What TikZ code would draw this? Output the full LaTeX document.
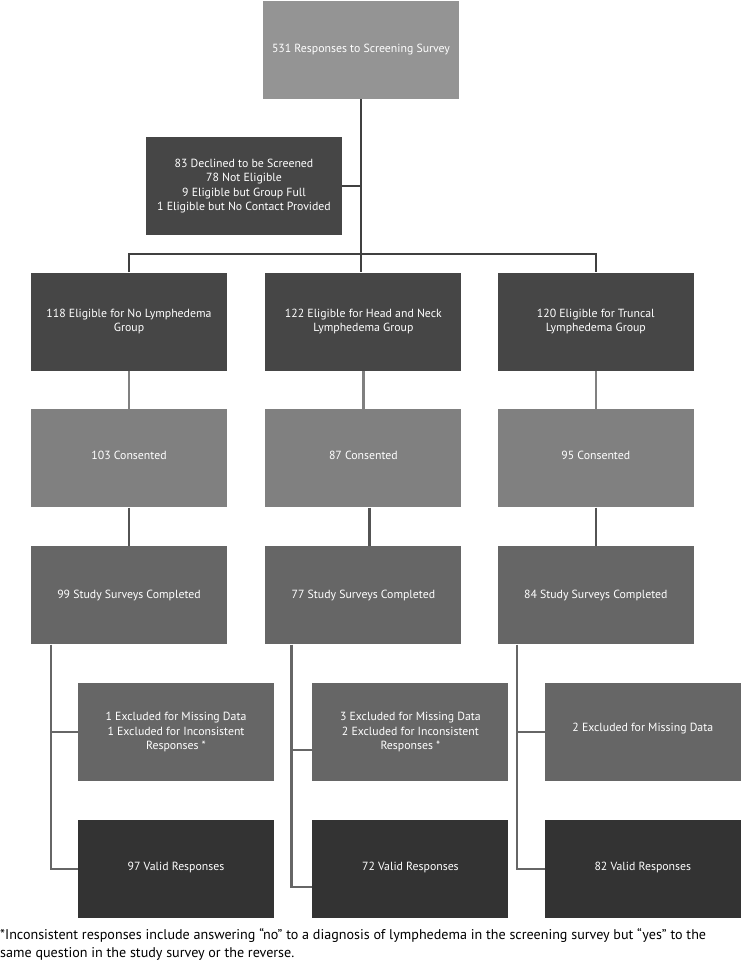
\documentclass[tikz,border=0pt]{standalone}
\usepackage{fontspec}
\setmainfont{PT Sans}
\usepackage{xcolor}
\usepackage{tikz}
\usetikzlibrary{positioning}
\definecolor{topgray}{RGB}{148,148,148}
\definecolor{darkbox}{RGB}{70,70,70}
\definecolor{consgray}{RGB}{128,128,128}
\definecolor{studygray}{RGB}{102,102,102}
\definecolor{validgray}{RGB}{51,51,51}
\definecolor{linedark}{RGB}{64,64,64}

\begin{document}
\begin{tikzpicture}[
            x=1pt, y=-1pt,
            node distance=38.5pt and 38pt,
            box/.style={rectangle, minimum width=196pt, minimum height=98pt, inner sep=0pt, align=center, text=white, font=\fontsize{11.8}{14.5}\selectfont},
            link/.style={line width=2.5pt, draw=linedark}
        ]
            \useasboundingbox (0,0) rectangle (741,961);

            \node[box, fill=topgray] (screen) at (361,50) {531 Responses to Screening Survey};
            \node[box, fill=darkbox] (declined) at (244,186) {83 Declined to be Screened\\78 Not Eligible\\9 Eligible but Group Full\\1 Eligible but No Contact Provided};

            % eligible groups
            \node[box, fill=darkbox] (eligno) at (129,321.5) {118 Eligible for No Lymphedema\\Group};
            \node[box, fill=darkbox, right=38pt of eligno] (elighn) {122 Eligible for Head and Neck\\Lymphedema Group};
            \node[box, fill=darkbox, right=36pt of elighn] (eligtr) {120 Eligible for Truncal\\Lymphedema Group};

            \node[box, fill=consgray, below=of eligno] (consno) {\raisebox{6pt}{103 Consented}};
            \node[box, fill=consgray, below=of elighn] (conshn) {\raisebox{6pt}{87 Consented}};
            \node[box, fill=consgray, below=of eligtr] (constr) {\raisebox{6pt}{95 Consented}};

            \node[box, fill=studygray, below=of consno] (studyno) {\raisebox{3pt}{99 Study Surveys Completed}};
            \node[box, fill=studygray, below=of conshn] (studyhn) {\raisebox{3pt}{77 Study Surveys Completed}};
            \node[box, fill=studygray, below=of constr] (studytr) {\raisebox{3pt}{84 Study Surveys Completed}};

            % exclusions and valid responses
            \node[box, fill=studygray, below=of studyno, xshift=47pt] (exclno) {1 Excluded for Missing Data\\1 Excluded for Inconsistent\\Responses *};
            \node[box, fill=studygray, below=of studyhn, xshift=47pt] (exclhn) {3 Excluded for Missing Data\\2 Excluded for Inconsistent\\Responses *};
            \node[box, fill=studygray, below=of studytr, xshift=47pt] (excltr) {\raisebox{10pt}{2 Excluded for Missing Data}};

            \node[box, fill=validgray, below=of exclno] (validno) {\raisebox{5pt}{97 Valid Responses}};
            \node[box, fill=validgray, below=of exclhn] (validhn) {\raisebox{5pt}{72 Valid Responses}};
            \node[box, fill=validgray, below=of excltr] (validtr) {\raisebox{5pt}{82 Valid Responses}};

            \node[anchor=north west, align=left, inner sep=0pt, font=\fontsize{14.1}{18}\selectfont] (note) at (0,928) {*Inconsistent responses include answering “no” to a diagnosis of lymphedema in the screening survey but “yes” to the\\same question in the study survey or the reverse.};

            \coordinate (bus) at (screen.south |- 0,254);
            \coordinate (sideno) at ([xshift=-78pt]studyno.south);
            \coordinate (sidehn) at ([xshift=-72pt]studyhn.south);
            \coordinate (sidetr) at ([xshift=-79pt]studytr.south);

            \draw[link] (screen.south) -- (screen.south |- elighn.north);
            \draw[link] (declined.east) -- (declined.east -| screen.south);
            \draw[link] (eligno.north) |- (bus) -| (eligtr.north);

            \draw[link, draw=consgray] (eligno) -- (consno);
            \draw[link, draw=consgray] (elighn) -- (conshn);
            \draw[link, draw=consgray] (eligtr) -- (constr);
            \draw[link, draw=linedark!90] (consno) -- (studyno);
            \draw[link, draw=linedark!90] ([xshift=6pt]conshn.south) -- ([xshift=6pt]studyhn.north);
            \draw[link, draw=linedark!90] (constr) -- (studytr);

            \draw[link, draw=studygray] (sideno) |- (validno.west);
            \draw[link, draw=studygray] (sideno |- exclno.west) -- (exclno.west);
            \draw[link, draw=studygray] (sidehn) |- ([yshift=-18pt]validhn.west);
            \draw[link, draw=studygray] (sidehn |- 0,750) -- (exclhn.west |- 0,750);
            \draw[link, draw=studygray] (sidetr) |- (validtr.west);
            \draw[link, draw=studygray] (sidetr |- excltr.west) -- (excltr.west);
        \end{tikzpicture}
\end{document}
